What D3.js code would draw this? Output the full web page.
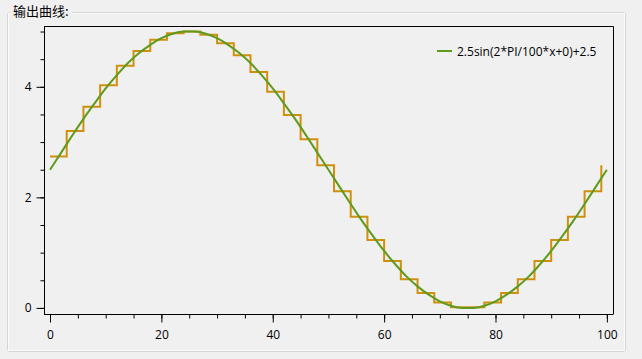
<!doctype html>
<html>
<head>
<meta charset="utf-8">
<script src="https://d3js.org/d3.v7.min.js"></script>
<style>
  body { margin: 0; background: #f0f0f0; }
  .tick text { font: 12px "Open Sans", sans-serif; fill: #000; }
</style>
</head>
<body>
<script>

// sine curve, read every 2 units along x
var curveX = [0, 2, 4, 6, 8, 10, 12, 14, 16, 18, 20, 22, 24, 26, 28, 30, 32, 34, 36, 38, 40,
              42, 44, 46, 48, 50, 52, 54, 56, 58, 60, 62, 64, 66, 68, 70, 72, 74, 76, 78, 80,
              82, 84, 86, 88, 90, 92, 94, 96, 98, 100];
var curveY = [2.50, 2.81, 3.12, 3.42, 3.70, 3.97, 4.21, 4.43, 4.61, 4.76, 4.88, 4.96, 5.00, 5.00,
              4.96, 4.88, 4.76, 4.61, 4.43, 4.21, 3.97, 3.70, 3.42, 3.12, 2.81, 2.50, 2.19, 1.88,
              1.58, 1.30, 1.03, 0.79, 0.57, 0.39, 0.24, 0.12, 0.04, 0.00, 0.00, 0.04, 0.12, 0.24,
              0.39, 0.57, 0.79, 1.03, 1.30, 1.58, 1.88, 2.19, 2.50];

// sampled output (step line), one level every 3 units
var stepX = [0, 3, 6, 9, 12, 15, 18, 21, 24, 27, 30, 33, 36, 39, 42, 45, 48, 51, 54, 57, 60,
             63, 66, 69, 72, 75, 78, 81, 84, 87, 90, 93, 96, 99];
var stepY = [2.74, 3.20, 3.64, 4.03, 4.38, 4.65, 4.85, 4.97, 5.00, 4.94, 4.79, 4.57, 4.27, 3.91,
             3.49, 3.05, 2.58, 2.11, 1.65, 1.23, 0.85, 0.52, 0.27, 0.10, 0.01, 0.01, 0.10, 0.27,
             0.52, 0.85, 1.23, 1.65, 2.11, 2.58];

var xTicks = [0, 20, 40, 60, 80, 100];
var yTicks = [0, 2, 4];
var legendLabel = '2.5sin(2*PI/100*x+0)+2.5';
var title = '输出曲线:';

var width = 642, height = 359;
var plotLeft = 44, plotRight = 613, plotTop = 26, plotBottom = 314;

var svg = d3.select('body').append('svg')
    .attr('width', width)
    .attr('height', height);

// group box frame
svg.append('rect')
    .attr('x', 7.5).attr('y', 12.5)
    .attr('width', 618).attr('height', 339)
    .attr('rx', 2)
    .attr('fill', 'none')
    .attr('stroke', '#d5d5d5');
svg.append('rect')
    .attr('x', 8.5).attr('y', 13.5)
    .attr('width', 616).attr('height', 337)
    .attr('fill', 'none')
    .attr('stroke', '#fbfbfb');
svg.append('rect')
    .attr('x', 10).attr('y', 4)
    .attr('width', 62).attr('height', 16)
    .attr('fill', '#f0f0f0');
svg.append('text')
    .attr('x', 13).attr('y', 16)
    .style('font', '13px "Noto Sans CJK SC", sans-serif')
    .text(title);

var x = d3.scaleLinear().domain([-1.08, 101.1]).range([plotLeft, plotRight]);
var y = d3.scaleLinear().domain([-0.11, 5.1]).range([plotBottom, plotTop]);

// top and right frame
svg.append('path')
    .attr('d', 'M' + plotLeft + ',' + (plotTop + 0.5) + 'H' + (plotRight + 0.5) + 'V' + plotBottom)
    .attr('fill', 'none')
    .attr('stroke', '#000');

// x axis with minor ticks
var xMinor = d3.range(0, 101, 5);
svg.append('g')
    .attr('transform', 'translate(0,' + (plotBottom + 0.5) + ')')
    .call(d3.axisBottom(x).tickValues(xMinor).tickSize(4).tickFormat(''))
    .call(function(g) { g.select('.domain').remove(); });
svg.append('g')
    .attr('transform', 'translate(0,' + (plotBottom + 0.5) + ')')
    .call(d3.axisBottom(x).tickValues(xTicks).tickSize(8).tickSizeOuter(0).tickPadding(8).tickFormat(d3.format('d')))
    .call(function(g) { g.select('.domain').attr('d', 'M' + plotLeft + ',0H' + (plotRight + 0.5)); });

// y axis with minor ticks
var yMinor = d3.range(0, 5.01, 0.5);
svg.append('g')
    .attr('transform', 'translate(' + (plotLeft + 0.5) + ',0)')
    .call(d3.axisLeft(y).tickValues(yMinor).tickSize(4).tickFormat(''))
    .call(function(g) { g.select('.domain').remove(); });
svg.append('g')
    .attr('transform', 'translate(' + (plotLeft + 0.5) + ',0)')
    .call(d3.axisLeft(y).tickValues(yTicks).tickSize(8).tickSizeOuter(0).tickPadding(5).tickFormat(d3.format('d')))
    .call(function(g) { g.select('.domain').attr('d', 'M0,' + plotTop + 'V' + (plotBottom + 0.5)); });

svg.selectAll('.tick line').attr('stroke', '#000');

// lines
var stepLine = d3.line()
    .x(function(d, i) { return x(stepX[i]); })
    .y(function(d) { return y(d); })
    .curve(d3.curveStepAfter);
svg.append('path')
    .datum(stepY)
    .attr('d', stepLine)
    .attr('fill', 'none')
    .attr('stroke', '#d0900e')
    .attr('stroke-width', 2);

var curveLine = d3.line()
    .x(function(d, i) { return x(curveX[i]); })
    .y(function(d) { return y(d); })
    .curve(d3.curveMonotoneX);
svg.append('path')
    .datum(curveY)
    .attr('d', curveLine)
    .attr('fill', 'none')
    .attr('stroke', '#5e9a1c')
    .attr('stroke-width', 2);

// legend
svg.append('line')
    .attr('x1', 437).attr('x2', 452)
    .attr('y1', 51).attr('y2', 51)
    .attr('stroke', '#5e9a1c')
    .attr('stroke-width', 2);
svg.append('text')
    .attr('x', 457).attr('y', 56)
    .style('font', '12px "Open Sans", sans-serif')
    .text(legendLabel);

</script>
</body>
</html>
